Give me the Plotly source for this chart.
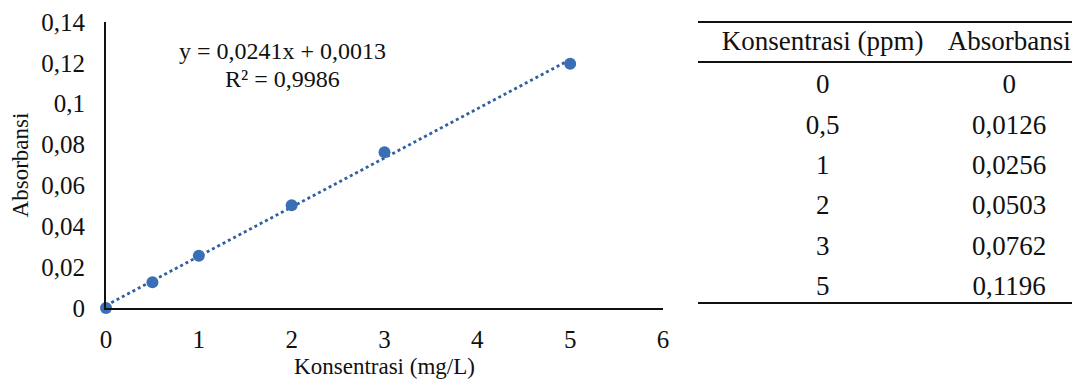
import numpy as np
import plotly.graph_objects as go

# Data
konsentrasi = [0, 0.5, 1, 2, 3, 5]
absorbansi = [0, 0.0126, 0.0256, 0.0503, 0.0762, 0.1196]
konsentrasi_text = ["0", "0,5", "1", "2", "3", "5"]
absorbansi_text = ["0", "0,0126", "0,0256", "0,0503", "0,0762", "0,1196"]
x_ticks = [0, 1, 2, 3, 4, 5, 6]
x_ticktext = ["0", "1", "2", "3", "4", "5", "6"]
y_ticks = [0, 0.02, 0.04, 0.06, 0.08, 0.10, 0.12, 0.14]
y_ticktext = ["0", "0,02", "0,04", "0,06", "0,08", "0,1", "0,12", "0,14"]
equation_text = "y = 0,0241x + 0,0013"
r2_text = "R² = 0,9986"
table_header = ["Konsentrasi (ppm)", "Absorbansi"]

W, H = 1079, 385
FONT = "Liberation Serif, Times New Roman, serif"
BLUE = "#3a6fb6"
INK = "#111111"

# linear trendline fitted from data
slope, intercept = np.polyfit(konsentrasi, absorbansi, 1)
trend_x = [min(konsentrasi), max(konsentrasi)]
trend_y = [slope * v + intercept for v in trend_x]

fig = go.Figure()
fig.add_trace(go.Scatter(x=trend_x, y=trend_y, mode="lines",
                         line=dict(color="#30609f", width=2.8, dash="dot"),
                         hoverinfo="skip", showlegend=False, cliponaxis=False))
fig.add_trace(go.Scatter(x=konsentrasi, y=absorbansi, mode="markers",
                         marker=dict(color=BLUE, size=12),
                         showlegend=False, cliponaxis=False))

# plot area in pixels
L, R, T, B = 106, 663, 22, 308
fig.update_layout(
    width=W, height=H,
    margin=dict(l=0, r=0, t=0, b=0),
    paper_bgcolor="white", plot_bgcolor="white",
    font=dict(family=FONT, size=25, color=INK),
    xaxis=dict(domain=[L / W, R / W], range=[0, 6], tickvals=x_ticks, ticktext=x_ticktext,
               showgrid=False, zeroline=False, showline=True, linecolor=INK, linewidth=2,
               ticks="", ticklabelstandoff=8, automargin=False,
               title=dict(text="Konsentrasi (mg/L)", font=dict(size=23), standoff=6)),
    yaxis=dict(domain=[1 - B / H, 1 - T / H], range=[0, 0.14], tickvals=y_ticks, ticktext=y_ticktext,
               showgrid=False, zeroline=False, showline=True, linecolor=INK, linewidth=2,
               ticks="", ticklabelstandoff=14, automargin=False,
               title=dict(text="Absorbansi", font=dict(size=23), standoff=6)),
)

fig.add_annotation(x=1.9, y=0.1258, xref="x", yref="y", showarrow=False,
                   text=equation_text, font=dict(family=FONT, size=24, color=INK))
fig.add_annotation(x=1.9, y=0.1121, xref="x", yref="y", showarrow=False,
                   text=r2_text, font=dict(family=FONT, size=24, color=INK))

# Table
TL, TR, TT, TB = 698, 1072, 22, 303
fig.add_trace(go.Table(
    domain=dict(x=[TL / W, TR / W], y=[1 - 307 / H, 1 - TT / H]),
    columnwidth=[250, 124],
    header=dict(values=table_header, height=43, align="center",
                fill_color="white", line=dict(color="white", width=0),
                font=dict(family=FONT, size=27, color=INK)),
    cells=dict(values=[konsentrasi_text, absorbansi_text], height=40.4, align="center",
               fill_color="white", line=dict(color="white", width=0),
               font=dict(family=FONT, size=27, color=INK)),
))
for yy in [TT, 62, TB]:
    fig.add_shape(type="line", xref="paper", yref="paper",
                  x0=TL / W, x1=TR / W, y0=1 - yy / H, y1=1 - yy / H,
                  line=dict(color=INK, width=2))

fig.write_html("out.html", config={"displayModeBar": False},
               post_script="document.body.style.margin='0';")
